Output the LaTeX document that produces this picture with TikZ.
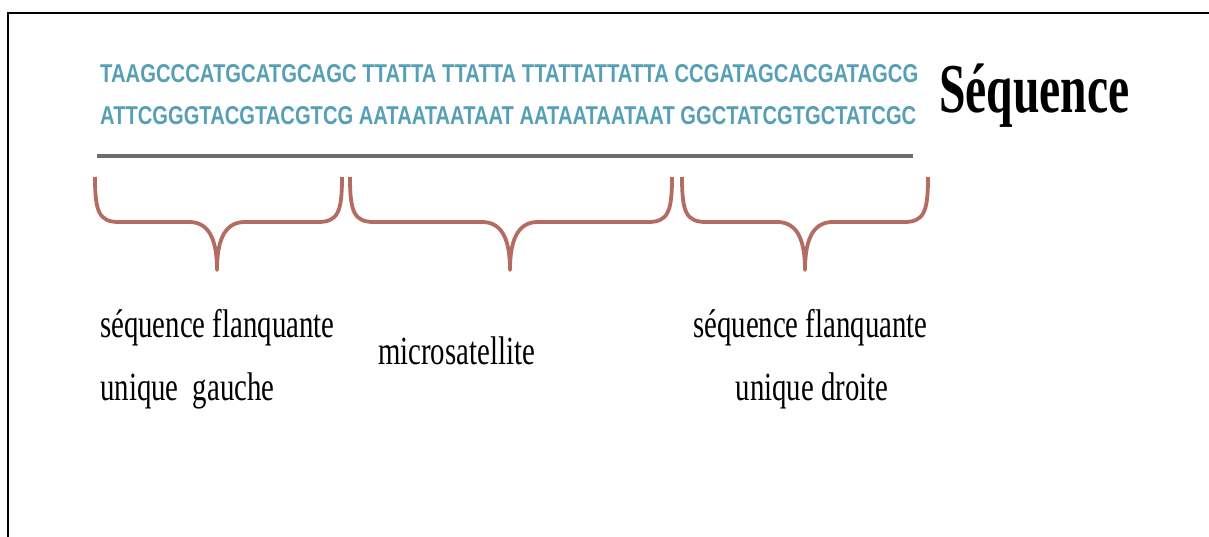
\documentclass[tikz,border=0pt]{standalone}
\usepackage{fontspec}
\setmainfont{Liberation Serif}
\newfontfamily\seqfont{Liberation Sans}
\definecolor{seqblue}{RGB}{85,160,182}
\definecolor{bracered}{RGB}{180,108,98}
\definecolor{rulegray}{RGB}{110,110,110}
\newcommand{\seqbrace}[3]{%
  \draw[bracestyle] (#1,177) .. controls (#1,212) and (#1+4,222) .. (#1+24,222)
    -- (#2-28,222) .. controls (#2-10,222) and (#2,236) .. (#2,270)
    .. controls (#2,236) and (#2+10,222) .. (#2+28,222)
    -- (#3-24,222) .. controls (#3-4,222) and (#3,212) .. (#3,177);}
\tikzset{
  bracestyle/.style={draw=bracered, line width=3.8pt, line join=round},
  seqrow/.style={anchor=base west, inner sep=0pt, text=seqblue},
  lbl/.style={inner sep=0pt, font=\fontsize{40}{40}\selectfont},
}
\newcommand{\lbltext}[1]{\scalebox{0.72}[1]{#1}}
\begin{document}
\begin{tikzpicture}[x=1pt,y=-1pt]
\useasboundingbox (0,0) rectangle (1209,537);
\fill[white] (0,0) rectangle (1209,537);
% frame
\draw[line width=2.5pt, black] (8,537) -- (8,13) -- (1209,13);
% sequence rows
\node[seqrow] (row1) at (100,83) {\resizebox{818pt}{18pt}{\seqfont\bfseries TAAGCCCATGCATGCAGC TTATTA TTATTA TTATTATTATTA CCGATAGCACGATAGCG}};
\node[seqrow] (row2) at (100,125) {\resizebox{816pt}{18pt}{\seqfont\bfseries ATTCGGGTACGTACGTCG AATAATAATAAT AATAATAATAAT GGCTATCGTGCTATCGC}};
% rule
\draw[rulegray, line width=4pt] (97,156) -- (913,156);
% title
\node[anchor=base west, inner sep=0pt] (title) at (939,113) {\scalebox{0.68}[1]{\fontsize{70}{70}\selectfont\bfseries Séquence}};
% braces
\seqbrace{95}{217}{342}
\seqbrace{350}{510}{672}
\seqbrace{682}{805}{928}
% labels
\node[lbl, anchor=base west] (l1a) at (100,337) {\lbltext{séquence flanquante}};
\node[lbl, anchor=base west] (l1b) at (100,400) {\lbltext{unique~~gauche}};
\node[lbl, anchor=base west] (m) at (378,364) {\lbltext{microsatellite}};
\node[lbl, anchor=base west] (r1a) at (693,337) {\lbltext{séquence flanquante}};
\node[lbl, anchor=base] (r1b) at (812,400) {\lbltext{unique droite}};
\end{tikzpicture}
\end{document}
